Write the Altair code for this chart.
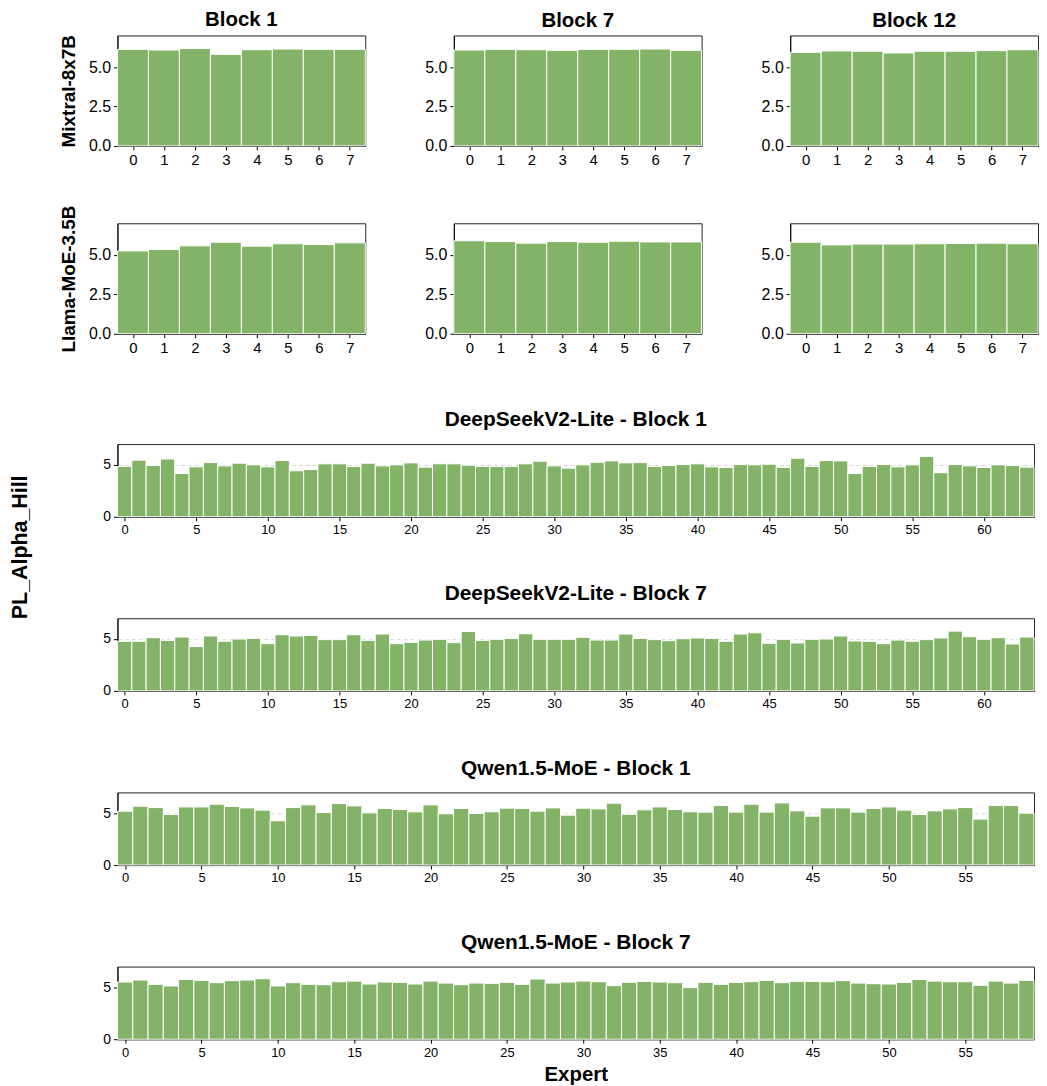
import altair as alt
import pandas as pd

# ---------------- data ----------------
small_blocks = ["Block 1", "Block 7", "Block 12"]
small_models = ["Mixtral-8x7B", "Llama-MoE-3.5B"]

mixtral_b1 = [6.12, 6.08, 6.17, 5.81, 6.10, 6.14, 6.12, 6.12]
mixtral_b7 = [6.08, 6.12, 6.10, 6.06, 6.12, 6.12, 6.14, 6.06]
mixtral_b12 = [5.93, 6.02, 6.00, 5.89, 6.00, 6.00, 6.04, 6.10]
llama_b1 = [5.25, 5.34, 5.57, 5.80, 5.55, 5.70, 5.65, 5.76]
llama_b7 = [5.89, 5.84, 5.74, 5.84, 5.80, 5.86, 5.82, 5.82]
llama_b12 = [5.80, 5.63, 5.68, 5.68, 5.70, 5.72, 5.74, 5.70]

deepseek_b1 = [4.84, 5.45, 4.94, 5.57, 4.17, 4.81, 5.22, 4.90, 5.16, 5.00,
               4.81, 5.41, 4.43, 4.55, 5.10, 5.10, 4.84, 5.16, 4.90, 5.00,
               5.19, 4.78, 5.10, 5.10, 4.97, 4.84, 4.84, 4.84, 5.10, 5.35,
               4.90, 4.68, 5.00, 5.25, 5.38, 5.19, 5.22, 4.84, 4.94, 5.03,
               5.10, 4.81, 4.75, 5.03, 5.00, 5.06, 4.75, 5.64, 4.84, 5.41,
               5.38, 4.17, 4.84, 5.03, 4.81, 5.00, 5.80, 4.24, 5.03, 4.90,
               4.75, 5.00, 4.94, 4.78]
deepseek_b7 = [4.78, 4.78, 5.13, 4.87, 5.19, 4.27, 5.29, 4.78, 5.00, 5.06,
               4.55, 5.41, 5.29, 5.35, 4.94, 4.94, 5.41, 4.87, 5.48, 4.55,
               4.68, 4.90, 4.97, 4.65, 5.73, 4.87, 4.97, 5.06, 5.51, 4.97,
               4.97, 4.97, 5.16, 4.90, 4.90, 5.48, 5.06, 4.94, 4.84, 5.03,
               5.10, 5.06, 4.78, 5.48, 5.60, 4.59, 4.97, 4.62, 4.97, 5.00,
               5.29, 4.81, 4.78, 4.55, 4.90, 4.78, 4.94, 5.10, 5.76, 5.22,
               4.97, 5.13, 4.52, 5.19]
qwen_b1 = [5.19, 5.67, 5.54, 4.87, 5.60, 5.60, 5.86, 5.64, 5.51, 5.29,
           4.27, 5.54, 5.80, 5.06, 5.92, 5.70, 5.03, 5.45, 5.35, 5.13,
           5.80, 4.94, 5.45, 4.97, 5.13, 5.48, 5.45, 5.19, 5.51, 4.81,
           5.48, 5.41, 5.96, 4.90, 5.32, 5.60, 5.35, 5.13, 5.10, 5.73,
           5.10, 5.86, 5.10, 5.99, 5.22, 4.71, 5.51, 5.51, 5.10, 5.45,
           5.60, 5.29, 4.87, 5.22, 5.41, 5.54, 4.43, 5.73, 5.73, 5.00]
qwen_b7 = [5.51, 5.70, 5.29, 5.13, 5.76, 5.67, 5.45, 5.64, 5.70, 5.83,
           5.13, 5.45, 5.29, 5.25, 5.54, 5.60, 5.32, 5.51, 5.48, 5.32,
           5.60, 5.41, 5.25, 5.41, 5.38, 5.48, 5.29, 5.80, 5.41, 5.51,
           5.60, 5.54, 5.16, 5.48, 5.57, 5.51, 5.45, 4.97, 5.48, 5.29,
           5.48, 5.54, 5.67, 5.45, 5.57, 5.57, 5.54, 5.64, 5.41, 5.35,
           5.32, 5.48, 5.76, 5.60, 5.54, 5.54, 5.19, 5.60, 5.41, 5.67]

wide_titles = ["DeepSeekV2-Lite - Block 1", "DeepSeekV2-Lite - Block 7",
               "Qwen1.5-MoE - Block 1", "Qwen1.5-MoE - Block 7"]
small_yticks = [0, 2.5, 5]
wide_yticks = [0, 5]
y_max = 7

# ---------------- style ----------------
BAR = "#83b366"
FONT = "Liberation Sans"
SMALL_W, SMALL_H = 249, 111
SMALL_GAP = 87
WIDE_W, WIDE_H = 3 * SMALL_W + 2 * SMALL_GAP, 73
SMALL_EXT = 33
LEFT_EXT = 60


def frame(vals):
    n = len(vals)
    return pd.DataFrame({
        "expert": list(range(n)),
        "x0": [i - 0.5 for i in range(n)],
        "x1": [i + 0.5 for i in range(n)],
        "base": [0.0] * n,
        "value": vals,
    })


def small_panel(vals, title=None, ylabel=None):
    n = len(vals)
    yaxis_kw = dict(values=small_yticks, format=".1f", tickSize=4, labelFontSize=16,
                    labelPadding=3, minExtent=SMALL_EXT, grid=False, labelColor="#000",
                    tickColor="#000", domainColor="#000")
    if ylabel:
        yaxis_kw.update(title=ylabel, titleFontSize=19, titleFontWeight="bold",
                        titlePadding=6, titleColor="#000")
    else:
        yaxis_kw.update(title=None)
    ch = alt.Chart(frame(vals)).mark_bar(color=BAR, stroke="white", strokeWidth=1).encode(
        x=alt.X("x0:Q", scale=alt.Scale(domain=[-0.5, n - 0.5], nice=False, zero=False),
                axis=alt.Axis(values=list(range(n)), format="d", tickSize=4, labelFontSize=15,
                              labelPadding=3, labelAngle=0, grid=False, title=None,
                              labelColor="#000", tickColor="#000", domainColor="#000")),
        x2="x1",
        y=alt.Y("value:Q", scale=alt.Scale(domain=[0, y_max], nice=False),
                axis=alt.Axis(**yaxis_kw)),
        y2="base",
    )
    props = dict(width=SMALL_W, height=SMALL_H)
    if title:
        props["title"] = alt.TitleParams(title, fontSize=20.5, fontWeight="bold", offset=4,
                                         color="#000")
    return ch.properties(**props)


def wide_panel(vals, title, xlabel=None):
    n = len(vals)
    xaxis_kw = dict(values=list(range(0, n, 5)), format="d", tickSize=4, labelFontSize=13,
                    labelPadding=3, labelAngle=0, grid=False, labelColor="#000",
                    tickColor="#000", domainColor="#000")
    if xlabel:
        xaxis_kw.update(title=xlabel, titleFontSize=20.5, titleFontWeight="bold",
                        titlePadding=5, titleColor="#000")
    else:
        xaxis_kw.update(title=None)
    ch = alt.Chart(frame(vals)).mark_bar(color=BAR, stroke="white", strokeWidth=1).encode(
        x=alt.X("x0:Q", scale=alt.Scale(domain=[-0.5, n - 0.5], nice=False, zero=False),
                axis=alt.Axis(**xaxis_kw)),
        x2="x1",
        y=alt.Y("value:Q", scale=alt.Scale(domain=[0, y_max], nice=False),
                axis=alt.Axis(values=wide_yticks, format="d", tickSize=4, labelFontSize=14,
                              labelPadding=3, minExtent=LEFT_EXT, title=None, grid=True,
                              gridColor="#d9d9d9", gridDash=[4, 3], gridWidth=1,
                              labelColor="#000", tickColor="#000", domainColor="#000")),
        y2="base",
    )
    return ch.properties(width=WIDE_W, height=WIDE_H,
                         title=alt.TitleParams(title, fontSize=21, fontWeight="bold",
                                               offset=14, color="#000"))


row1 = alt.hconcat(
    small_panel(mixtral_b1, small_blocks[0], small_models[0]),
    small_panel(mixtral_b7, small_blocks[1]),
    small_panel(mixtral_b12, small_blocks[2]),
    spacing=SMALL_GAP - SMALL_EXT,
)
row2 = alt.hconcat(
    small_panel(llama_b1, None, small_models[1]),
    small_panel(llama_b7),
    small_panel(llama_b12),
    spacing=SMALL_GAP - SMALL_EXT,
)
small = alt.vconcat(row1, row2, spacing=35.7)
wide = alt.vconcat(
    wide_panel(deepseek_b1, wide_titles[0]),
    wide_panel(deepseek_b7, wide_titles[1]),
    wide_panel(qwen_b1, wide_titles[2]),
    wide_panel(qwen_b7, wide_titles[3], "Expert"),
    spacing=45,
)

chart = alt.vconcat(small, wide, spacing=51.6).properties(
    padding={"left": 2, "top": -1, "right": 0, "bottom": 0},
    title=alt.TitleParams("PL_Alpha_Hill", orient="left", anchor="middle", fontSize=21.5,
                          fontWeight="bold", offset=26, color="#000"),
).configure(font=FONT).configure_view(stroke="#222", strokeWidth=1)

chart.save("out.html", embed_options={"renderer": "svg", "actions": False})
